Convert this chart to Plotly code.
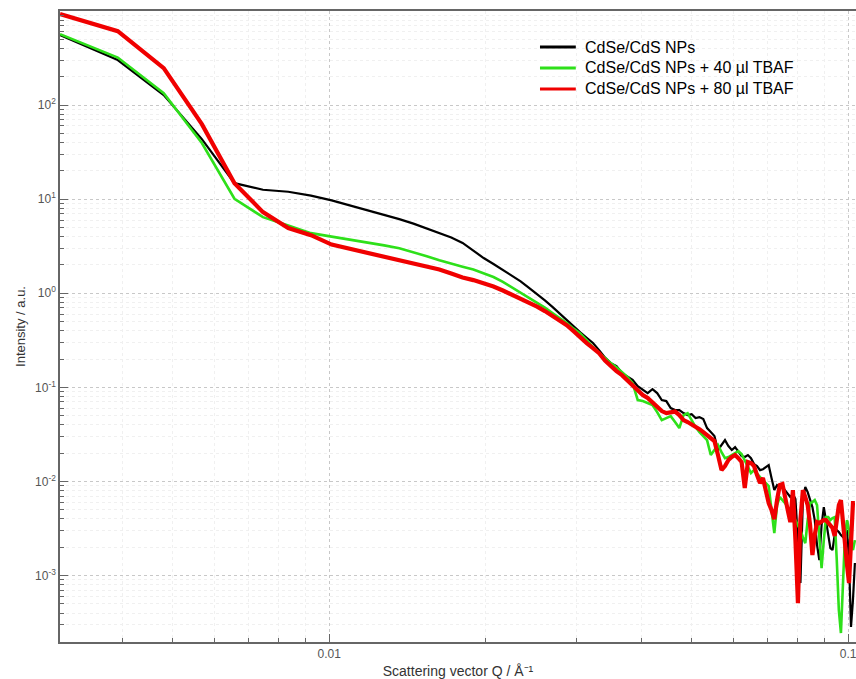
import plotly.graph_objects as go

# Scattering vector grid (1/Å): uniform spacing
q_start = 0.00303
q_step = 0.000885
n_points = 114
q = [q_start + q_step * i for i in range(n_points)]

names = ["CdSe/CdS NPs", "CdSe/CdS NPs + 40 µl TBAF", "CdSe/CdS NPs + 80 µl TBAF"]

I_np = [555, 301, 128, 43.5, 14.8, 12.6, 12.0, 10.9, 9.71, 8.55,
        7.60, 6.86, 6.14, 5.50, 4.90, 4.39, 3.91, 3.43, 2.81, 2.37,
        2.05, 1.77, 1.55, 1.34, 1.14, 0.981, 0.840, 0.717, 0.607, 0.515,
        0.444, 0.384, 0.337, 0.296, 0.249, 0.207, 0.181, 0.168, 0.142, 0.129,
        0.120, 0.103, 0.0936, 0.0870, 0.0959, 0.0870, 0.0733, 0.0715, 0.0603, 0.0574,
        0.0574, 0.0533, 0.0508, 0.0520, 0.0472, 0.0483, 0.0460, 0.0369, 0.0335, 0.0304,
        0.0216, 0.0244, 0.0275, 0.0238, 0.0216, 0.0232, 0.0205, 0.0186, 0.0182, 0.0191,
        0.0177, 0.0153, 0.0146, 0.0132, 0.0135, 0.0142, 0.0149, 0.0109, 0.0081, 0.00915,
        0.00872, 0.00872, 0.0081, 0.00735, 0.00683, 0.00735, 0.00650, 0.00238, 0.000832, 0.00634,
        0.00872, 0.00772, 0.00634, 0.00534, 0.00389, 0.00211, 0.00146, 0.00344, 0.00534, 0.00389,
        0.00269, 0.00196, 0.00187, 0.00269, 0.00304, 0.00290, 0.00269, 0.00256, 0.00290, 0.00304,
        0.00146, 0.000284, 0.000549, 0.00136]

I_40 = [568, 320, 134, 39.5, 10.1, 6.45, 5.24, 4.36, 4.00, 3.72,
        3.46, 3.23, 3.01, 2.74, 2.48, 2.25, 2.06, 1.92, 1.79, 1.64,
        1.49, 1.32, 1.15, 1.02, 0.900, 0.796, 0.705, 0.616, 0.545, 0.482,
        0.421, 0.373, 0.318, 0.268, 0.234, 0.205, 0.181, 0.164, 0.145, 0.129,
        0.111, 0.0733, 0.0715, 0.0681, 0.0648, 0.0546, 0.0449, 0.0472, 0.0495, 0.0428,
        0.0369, 0.0508, 0.0533, 0.0449, 0.0378, 0.0335, 0.0304, 0.0275, 0.0191, 0.0216,
        0.0244, 0.0205, 0.0177, 0.0182, 0.0191, 0.0200, 0.0210, 0.0196, 0.0169, 0.0142,
        0.0123, 0.0132, 0.0120, 0.0111, 0.0103, 0.00961, 0.00893, 0.00497, 0.00283, 0.00561,
        0.00683, 0.00634, 0.00590, 0.00534, 0.00497, 0.00439, 0.00389, 0.00344, 0.00304, 0.00256,
        0.00221, 0.00389, 0.00590, 0.00604, 0.00634, 0.00561, 0.00269, 0.00120, 0.00238, 0.00418,
        0.00418, 0.00389, 0.00408, 0.00418, 0.00146, 0.000430, 0.000245, 0.000896, 0.00269, 0.00389,
        0.00304, 0.00211, 0.00187, 0.00238]

I_80 = [927, 611, 247, 62.8, 14.8, 7.29, 4.93, 4.15, 3.29, 2.95,
        2.64, 2.40, 2.20, 2.04, 1.92, 1.79, 1.62, 1.47, 1.38, 1.28,
        1.18, 1.07, 0.969, 0.868, 0.796, 0.722, 0.647, 0.573, 0.513, 0.459,
        0.396, 0.338, 0.296, 0.262, 0.231, 0.193, 0.168, 0.149, 0.135, 0.120,
        0.106, 0.0936, 0.0828, 0.0770, 0.0698, 0.0617, 0.0560, 0.0533, 0.0546, 0.0553,
        0.0508, 0.0449, 0.0428, 0.0407, 0.0388, 0.0360, 0.0335, 0.0311, 0.0289, 0.0269,
        0.0191, 0.0132, 0.0146, 0.0169, 0.0182, 0.0191, 0.0177, 0.0161, 0.00851, 0.0161,
        0.0157, 0.0146, 0.0117, 0.00961, 0.0109, 0.0081, 0.00590, 0.00497, 0.00398, 0.00634,
        0.00915, 0.00938, 0.00717, 0.00497, 0.00370, 0.0081, 0.00238, 0.000510, 0.00389, 0.0081,
        0.00683, 0.00561, 0.00344, 0.00165, 0.00269, 0.00370, 0.00361, 0.00379, 0.00389, 0.00389,
        0.00361, 0.00344, 0.00320, 0.00263, 0.00389, 0.00561, 0.00634, 0.00344, 0.00187, 0.00129,
        0.000832, 0.00187, 0.00590, 0.00590]

colors = ["#000000", "#2ee01a", "#f00000"]
widths = [2.2, 2.6, 4.2]

y_major = [1e-3, 1e-2, 1e-1, 1e0, 1e1, 1e2]
y_major_text = ["10<sup>-3</sup>", "10<sup>-2</sup>", "10<sup>-1</sup>", "10<sup>0</sup>",
                "10<sup>1</sup>", "10<sup>2</sup>"]
x_major = [0.01, 0.1]
x_major_text = ["0.01", "0.1"]

y_minor = [d * 10.0 ** k for k in range(-4, 3) for d in range(2, 10)]
x_minor = [d * 10.0 ** k for k in range(-3, -1) for d in range(2, 10)]

fig = go.Figure()
for name, ys, c, w in zip(names, [I_np, I_40, I_80], colors, widths):
    fig.add_trace(go.Scatter(x=q, y=ys, mode="lines", name=name, showlegend=False,
                             line=dict(color=c, width=w)))

# Legend drawn as line samples + text in paper coordinates (tight row spacing)
leg_x0, leg_x1, leg_tx = 0.603, 0.648, 0.657
leg_y = [0.9429, 0.9097, 0.8764]
for name, c, yy in zip(names, colors, leg_y):
    fig.add_shape(type="line", xref="paper", yref="paper",
                  x0=leg_x0, x1=leg_x1, y0=yy, y1=yy,
                  line=dict(color=c, width=3))
    fig.add_annotation(xref="paper", yref="paper", x=leg_tx, y=yy,
                       xanchor="left", yanchor="middle", text=name, showarrow=False,
                       font=dict(size=16, color="#000"))

font_family = "Arial, Liberation Sans, sans-serif"
fig.update_layout(
    width=856, height=679,
    margin=dict(l=60, r=0, t=11, b=37),
    paper_bgcolor="white", plot_bgcolor="white",
    font=dict(family=font_family),
    showlegend=False,
)
fig.update_xaxes(
    type="log", range=[-2.5186, -0.9849],
    tickmode="array", tickvals=x_major, ticktext=x_major_text,
    ticks="inside", ticklen=8, tickcolor="#666",
    tickfont=dict(size=12, color="#555"), ticklabeloverflow="allow",
    showline=True, linecolor="#666", linewidth=1.5, mirror=True,
    showgrid=True, gridcolor="#c8c8c8", griddash="dot", gridwidth=1,
    zeroline=False,
    minor=dict(tickmode="array", tickvals=x_minor, ticks="inside", ticklen=4,
               tickcolor="#666", showgrid=True, gridcolor="#f0f0f0", griddash="dot"),
    title=dict(text="Scattering vector Q / Å⁻¹", font=dict(size=14, color="#333"),
               standoff=6),
)
fig.update_yaxes(
    type="log", range=[-3.706, 3.0],
    tickmode="array", tickvals=y_major, ticktext=y_major_text,
    ticks="inside", ticklen=8, tickcolor="#666",
    tickfont=dict(size=12, color="#555"),
    showline=True, linecolor="#666", linewidth=1.5,
    showgrid=True, gridcolor="#c8c8c8", griddash="dot", gridwidth=1,
    zeroline=False,
    minor=dict(tickmode="array", tickvals=y_minor, ticks="inside", ticklen=4,
               tickcolor="#666", showgrid=True, gridcolor="#f0f0f0", griddash="dot"),
    title=dict(text="Intensity / a.u.", font=dict(size=13, color="#333"), standoff=6),
)

fig.write_html("out.html")
